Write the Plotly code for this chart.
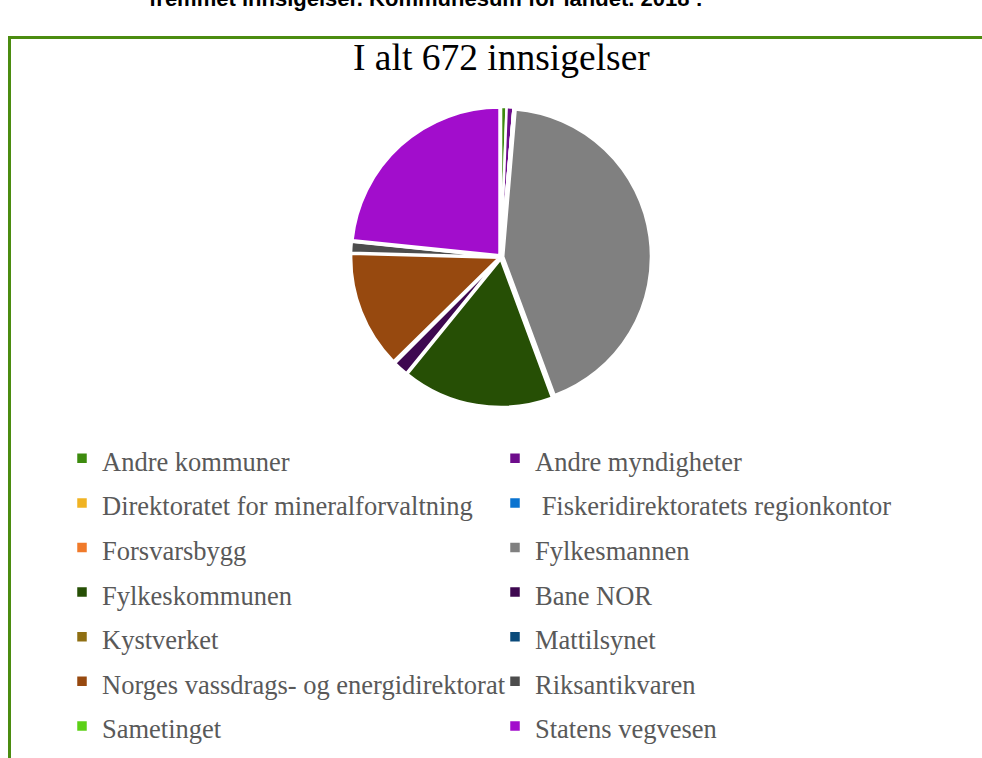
import plotly.graph_objects as go

categories = [
    "Andre kommuner", "Andre myndigheter", "Direktoratet for mineralforvaltning",
    " Fiskeridirektoratets regionkontor", "Forsvarsbygg", "Fylkesmannen",
    "Fylkeskommunen", "Bane NOR", "Kystverket", "Mattilsynet",
    "Norges vassdrags- og energidirektorat", "Riksantikvaren", "Sametinget",
    "Statens vegvesen",
]
values = [4, 5, 0, 0, 0, 289, 111, 11, 1, 0, 86, 8, 0, 157]
colors = [
    "#3D8B0E", "#6E0C8C", "#F0B323", "#0A73D0", "#F07A2A", "#808080",
    "#264F05", "#3E0850", "#8F6F12", "#0A4A7A", "#97490F", "#4D4D4D",
    "#5CD017", "#A20DCC",
]
title_text = "I alt 672 innsigelser"
top_text = "fremmet innsigelser. Kommunesum for landet. 2018 :"

W, H = 982, 758

legend_labels = ['<span style="font-size:26.5px">' + c + "</span>" for c in categories]

fig = go.Figure(go.Pie(
    labels=legend_labels,
    values=values,
    sort=False,
    direction="clockwise",
    rotation=0,
    marker=dict(colors=colors, line=dict(color="white", width=2.5)),
    pull=[0.015] * len(values),
    textinfo="none",
    hovertext=categories,
    hoverinfo="text+value",
    domain=dict(x=[351 / W, 651 / W], y=[1 - 407 / H, 1 - 107 / H]),
    showlegend=True,
))

fig.update_layout(
    width=W, height=H,
    margin=dict(l=0, r=0, t=0, b=0, autoexpand=False),
    paper_bgcolor="white",
    plot_bgcolor="white",
    font=dict(family="Liberation Serif", color="#595959"),
    legend=dict(
        orientation="h",
        x=62 / W, xanchor="left",
        y=1 - 431 / H, yanchor="top",
        entrywidth=388, entrywidthmode="pixels",
        font=dict(family="Liberation Serif", size=32, color="#595959"),
        traceorder="normal",
        itemclick=False, itemdoubleclick=False,
    ),
    shapes=[
        dict(type="line", xref="paper", yref="paper",
             x0=9.5 / W, x1=1.02, y0=1 - 37.5 / H, y1=1 - 37.5 / H,
             line=dict(color="#4B8C10", width=3)),
        dict(type="line", xref="paper", yref="paper",
             x0=9.5 / W, x1=9.5 / W, y0=1 - 36 / H, y1=-0.02,
             line=dict(color="#4B8C10", width=3)),
    ],
    annotations=[
        dict(text=title_text, xref="paper", yref="paper",
             x=501 / W, y=1 - 57 / H, xanchor="center", yanchor="middle",
             showarrow=False,
             font=dict(family="Liberation Serif", size=37.5, color="black")),
        dict(text="<b>" + top_text + "</b>", xref="paper", yref="paper",
             x=147 / W, y=1 + 2 / H, xanchor="left", yanchor="middle",
             showarrow=False,
             font=dict(family="Liberation Sans", size=22, color="black")),
    ],
)

fig.write_html("out.html")
